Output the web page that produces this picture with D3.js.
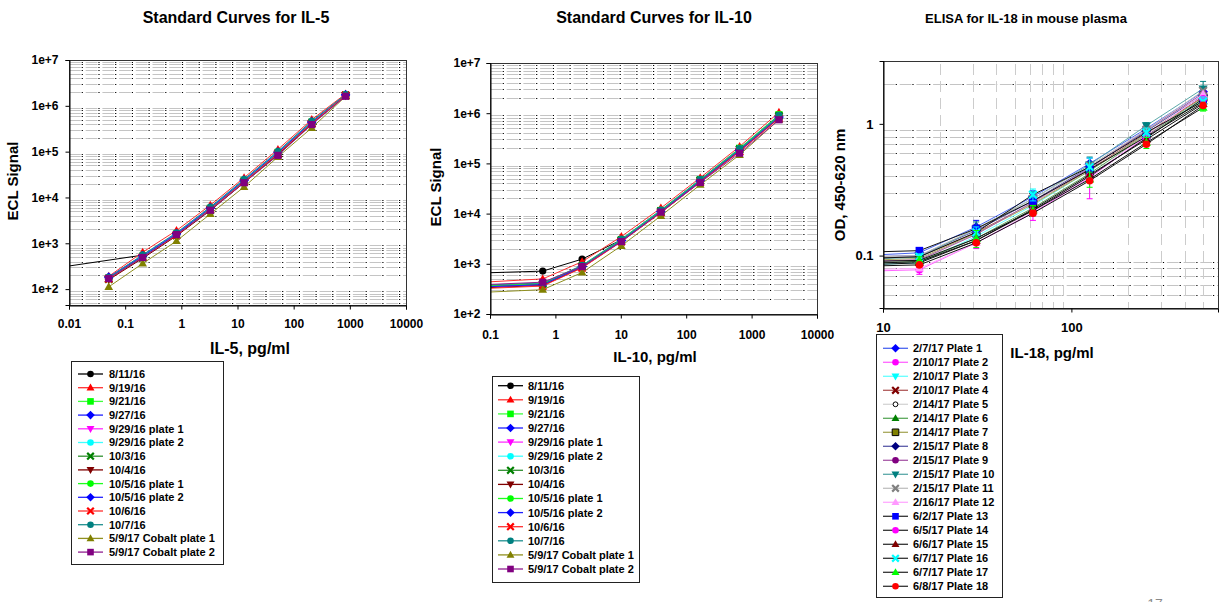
<!DOCTYPE html>
<html>
<head>
<meta charset="utf-8">
<script src="https://cdn.jsdelivr.net/npm/d3@7"></script>
<style>
  body { margin: 0; background: #fff; }
  svg text { font-family: Arial, "Liberation Sans", sans-serif; font-weight: bold; fill: #000; }
</style>
</head>
<body>
<div id="chart"></div>
<script>
// ---- data ----
const il5Dose = [0.0032, 0.051, 0.205, 0.82, 3.28, 13.1, 52.5, 210, 840];
const il10Dose = [0.04, 0.64, 2.56, 10.2, 41, 164, 655, 2620];
const il18Dose = [7.8, 15.6, 31.25, 62.5, 125, 250, 500];

const stdNames = ['8/11/16', '9/19/16', '9/21/16', '9/27/16', '9/29/16 plate 1', '9/29/16 plate 2',
  '10/3/16', '10/4/16', '10/5/16 plate 1', '10/5/16 plate 2', '10/6/16', '10/7/16',
  '5/9/17 Cobalt plate 1', '5/9/17 Cobalt plate 2'];

const il5Signal = [
  [260, null, 551, 1500, 5400, 21500, 88000, 410000, 1700000],
  [null, 190, 640, 1900, 6800, 27000, 112000, 500000, 1820000],
  [null, 175, 520, 1600, 5800, 23500, 96000, 440000, 1720000],
  [null, 185, 540, 1650, 6000, 24000, 98000, 450000, 1750000],
  [null, 170, 500, 1550, 5600, 22500, 92000, 420000, 1700000],
  [null, 175, 530, 1600, 5900, 24000, 97000, 445000, 1720000],
  [null, 165, 480, 1480, 5300, 21500, 88000, 410000, 1680000],
  [null, 160, 470, 1450, 5200, 21000, 86000, 400000, 1660000],
  [null, 172, 510, 1560, 5700, 23000, 94000, 430000, 1710000],
  [null, 178, 525, 1590, 5850, 23500, 95000, 435000, 1720000],
  [null, 168, 495, 1500, 5500, 22000, 90000, 415000, 1690000],
  [null, 180, 560, 1700, 6200, 25000, 102000, 465000, 1760000],
  [null, 112, 362, 1120, 4350, 17000, 77000, 330000, 1600000],
  [null, 171, 490, 1550, 5270, 21000, 83000, 390000, 1620000]
];

const il10Signal = [
  [640, 715, 1240, 3000, 11500, 45000, 180000, 820000],
  [410, 500, 1100, 3500, 12900, 52000, 217000, 1040000],
  [350, 400, 900, 3000, 11500, 47000, 200000, 930000],
  [340, 390, 880, 2900, 11000, 45000, 185000, 850000],
  [330, 380, 860, 2850, 10800, 44000, 180000, 820000],
  [360, 410, 920, 3050, 11600, 47000, 195000, 900000],
  [345, 395, 890, 2950, 11200, 46000, 190000, 880000],
  [320, 370, 840, 2800, 10500, 43000, 175000, 800000],
  [355, 405, 910, 3000, 11400, 46500, 192000, 890000],
  [335, 385, 870, 2870, 10900, 44500, 182000, 830000],
  [310, 360, 830, 2750, 10400, 42500, 172000, 790000],
  [365, 415, 930, 3100, 11800, 48000, 198000, 910000],
  [260, 305, 670, 2280, 9000, 37500, 148000, 740000],
  [370, 430, 880, 2770, 10700, 41700, 160000, 740000]
];

const plateNames = ['2/7/17 Plate 1', '2/10/17 Plate 2', '2/10/17 Plate 3', '2/10/17 Plate 4',
  '2/14/17 Plate 5', '2/14/17 Plate 6', '2/14/17 Plate 7', '2/15/17 Plate 8', '2/15/17 Plate 9',
  '2/15/17 Plate 10', '2/15/17 Plate 11', '2/16/17 Plate 12', '6/2/17 Plate 13', '6/5/17 Plate 14',
  '6/6/17 Plate 15', '6/7/17 Plate 16', '6/7/17 Plate 17', '6/8/17 Plate 18'];

const il18OD = [
  [0.100, 0.105, 0.165, 0.28, 0.50, 0.92, 1.75],
  [0.076, 0.078, 0.125, 0.21, 0.39, 0.80, 1.62],
  [0.085, 0.088, 0.140, 0.24, 0.44, 0.84, 1.55],
  [0.095, 0.098, 0.150, 0.25, 0.45, 0.85, 1.60],
  [0.090, 0.092, 0.145, 0.25, 0.46, 0.88, 1.70],
  [0.088, 0.090, 0.135, 0.23, 0.42, 0.82, 1.50],
  [0.092, 0.095, 0.148, 0.245, 0.44, 0.83, 1.58],
  [0.098, 0.100, 0.155, 0.26, 0.47, 0.88, 1.65],
  [0.090, 0.093, 0.145, 0.255, 0.46, 0.90, 1.70],
  [0.094, 0.097, 0.160, 0.27, 0.49, 0.97, 1.85],
  [0.097, 0.100, 0.160, 0.27, 0.48, 0.90, 1.78],
  [0.078, 0.080, 0.125, 0.215, 0.40, 0.82, 1.68],
  [0.106, 0.109, 0.160, 0.26, 0.45, 0.80, 1.45],
  [0.087, 0.090, 0.130, 0.22, 0.40, 0.78, 1.55],
  [0.085, 0.088, 0.130, 0.225, 0.41, 0.76, 1.42],
  [0.095, 0.098, 0.150, 0.29, 0.47, 0.86, 1.48],
  [0.090, 0.092, 0.135, 0.22, 0.38, 0.72, 1.33],
  [0.083, 0.085, 0.125, 0.21, 0.37, 0.70, 1.38]
];

// SD for the plates that show error bars (index -> values)
const il18Err = {
  0: [0, 0.008, 0.02, 0.03, 0.05, 0.06, 0.10],
  1: [0, 0.006, 0.012, 0.025, 0.12, 0.08, 0.15],
  9: [0, 0.007, 0.02, 0.035, 0.07, 0.05, 0.25],
  15: [0, 0.005, 0.015, 0.03, 0.08, 0.07, 0.12],
  16: [0, 0.006, 0.02, 0.02, 0.05, 0.07, 0.08]
};

// ---- styles ----
const stdStyle = [
  { c: '#000000', l: '#000000', s: 'circle' },
  { c: '#ff0000', l: '#ff3030', s: 'up' },
  { c: '#00ff00', l: '#40ff40', s: 'square' },
  { c: '#0000ff', l: '#2020ff', s: 'diamond' },
  { c: '#ff00ff', l: '#ff30ff', s: 'down' },
  { c: '#00ffff', l: '#40ffff', s: 'circle' },
  { c: '#008000', l: '#309030', s: 'x' },
  { c: '#800000', l: '#800000', s: 'down' },
  { c: '#00ff00', l: '#20ff20', s: 'circle' },
  { c: '#0000ff', l: '#2020ff', s: 'diamond' },
  { c: '#ff0000', l: '#ff3030', s: 'x' },
  { c: '#008080', l: '#209090', s: 'circle' },
  { c: '#808000', l: '#909020', s: 'up' },
  { c: '#800080', l: '#902090', s: 'square' }
];

const plateStyle = [
  { c: '#0000ff', l: '#4a66f0', s: 'diamond' },
  { c: '#ff00ff', l: '#ff66ff', s: 'circle' },
  { c: '#00ffff', l: '#66ffff', s: 'down' },
  { c: '#800000', l: '#b05a5a', s: 'x' },
  { c: '#ffffff', l: '#d4d4d4', s: 'ocircle' },
  { c: '#008000', l: '#5aa85a', s: 'up' },
  { c: '#808000', l: '#a8a85a', s: 'bsquare' },
  { c: '#000080', l: '#5a5aa8', s: 'diamond' },
  { c: '#800080', l: '#a85aa8', s: 'circle' },
  { c: '#008080', l: '#5aa8a8', s: 'down' },
  { c: '#808080', l: '#c0c0c0', s: 'x' },
  { c: '#ff99ff', l: '#ffaaff', s: 'up' },
  { c: '#0000ff', l: '#333333', s: 'square' },
  { c: '#ff00ff', l: '#333333', s: 'circle' },
  { c: '#800000', l: '#333333', s: 'up' },
  { c: '#00ffff', l: '#333333', s: 'x' },
  { c: '#00ff00', l: '#333333', s: 'up' },
  { c: '#ff0000', l: '#333333', s: 'circle' }
];

const svg = d3.select('#chart').append('svg')
  .attr('width', 1225).attr('height', 602)
  .style('display', 'block');

function symPath(shape, r) {
  switch (shape) {
    case 'square': case 'bsquare':
      return `M${-r},${-r}h${2 * r}v${2 * r}h${-2 * r}Z`;
    case 'diamond':
      return `M0,${-r * 1.3}L${r * 1.3},0L0,${r * 1.3}L${-r * 1.3},0Z`;
    case 'up':
      return `M0,${-r * 1.25}L${r * 1.2},${r * 0.85}L${-r * 1.2},${r * 0.85}Z`;
    case 'down':
      return `M0,${r * 1.25}L${r * 1.2},${-r * 0.85}L${-r * 1.2},${-r * 0.85}Z`;
    case 'x':
      return `M${-r},${-r}L${r},${r}M${r},${-r}L${-r},${r}`;
    case 'ocircle':
      return d3.symbol(d3.symbolCircle, Math.PI * 2.4 * 2.4)();
    default:
      return d3.symbol(d3.symbolCircle, Math.PI * r * r)();
  }
}

function drawMarker(sel, st, r) {
  const p = sel.append('path').attr('d', symPath(st.s, r));
  if (st.s === 'x') {
    p.attr('fill', 'none').attr('stroke', st.c).attr('stroke-width', 2.2);
  } else if (st.s === 'ocircle') {
    p.attr('fill', '#fff').attr('stroke', '#000').attr('stroke-width', 1);
  } else if (st.s === 'bsquare') {
    p.attr('fill', st.c).attr('stroke', '#000').attr('stroke-width', 1);
  } else {
    p.attr('fill', st.c);
  }
}

// minor log values (2..9 x 10^k) inside a domain
function minorVals(dom) {
  const out = [];
  const k0 = Math.floor(Math.log10(dom[0])), k1 = Math.ceil(Math.log10(dom[1]));
  for (let k = k0; k <= k1; k++) {
    for (let m = 2; m <= 9; m++) {
      const v = m * Math.pow(10, k);
      if (v >= dom[0] * 1.0001 && v <= dom[1] * 0.9999) out.push(v);
    }
  }
  return out;
}

function panel(o) {
  const g = svg.append('g');
  const x = d3.scaleLog().domain(o.xDomain).range([o.left, o.right]);
  const y = d3.scaleLog().domain(o.yDomain).range([o.bottom, o.top]);

  // horizontal grid: grey dashes with black dots
  const hg = g.append('g');
  minorVals(o.yDomain).forEach((v) => {
    const yy = Math.round(y(v)) + 0.5;
    hg.append('line').attr('x1', o.left).attr('x2', o.right).attr('y1', yy).attr('y2', yy)
      .attr('stroke', '#c4c4c4').attr('stroke-width', 1).attr('stroke-dasharray', '11.7,5');
    hg.append('line').attr('x1', o.left).attr('x2', o.right).attr('y1', yy).attr('y2', yy)
      .attr('stroke', '#000').attr('stroke-width', 1).attr('stroke-dasharray', '1.2,15.5')
      .attr('stroke-dashoffset', 4);
  });
  if (o.vGrid) {
    minorVals(o.xDomain).forEach((v) => {
      const xx = Math.round(x(v)) + 0.5;
      hg.append('line').attr('x1', xx).attr('x2', xx).attr('y1', o.top).attr('y2', o.bottom)
        .attr('stroke', '#cccccc').attr('stroke-width', 1).attr('stroke-dasharray', '11,6')
        .attr('stroke-dashoffset', -3);
    });
  }

  // series
  const clipId = 'clip' + o.id;
  svg.append('clipPath').attr('id', clipId).append('rect')
    .attr('x', o.left).attr('y', o.top).attr('width', o.right - o.left).attr('height', o.bottom - o.top);
  const sg = g.append('g').attr('clip-path', `url(#${clipId})`);
  const line = d3.line().x((d) => x(d[0])).y((d) => y(d[1]));

  o.values.forEach((vals, i) => {
    const pts = o.dose.map((d, j) => [d, vals[j], o.err && o.err[i] ? o.err[i][j] : 0])
      .filter((p) => p[1] != null);
    const st = o.styles[i];
    const s = sg.append('g');
    s.append('path').datum(pts).attr('d', line)
      .attr('fill', 'none').attr('stroke', o.plotLine ? o.plotLine(st) : st.l).attr('stroke-width', 1);
    pts.filter((p) => p[2] > 0).forEach((p) => {
      const xx = x(p[0]);
      const y0 = y(p[1] - p[2]), y1 = y(p[1] + p[2]);
      s.append('path').attr('d', `M${xx},${y0}V${y1}M${xx - 3},${y0}h6M${xx - 3},${y1}h6`)
        .attr('stroke', st.s === 'ocircle' ? '#000' : st.c).attr('stroke-width', 1).attr('fill', 'none');
    });
    pts.forEach((p) => {
      const m = s.append('g').attr('transform', `translate(${x(p[0])},${y(p[1])})`);
      drawMarker(m, st, o.markerR);
    });
  });

  // frame
  g.append('rect').attr('x', o.left + 0.5).attr('y', o.top + 0.5)
    .attr('width', o.right - o.left).attr('height', o.bottom - o.top)
    .attr('fill', 'none').attr('stroke', '#333').attr('stroke-width', 1);

  // axes
  const yAx = g.append('g').attr('transform', `translate(${o.left + 0.5},0)`)
    .call(d3.axisLeft(y).tickValues(o.yTicks).tickFormat((d, i) => o.yLabels[i])
      .tickSize(4).tickPadding(o.yPad));
  const xAx = g.append('g').attr('transform', `translate(0,${o.bottom + 0.5})`)
    .call(d3.axisBottom(x).tickValues(o.xTicks).tickFormat((d, i) => o.xLabels[i])
      .tickSize(4).tickPadding(o.xPad));
  [yAx, xAx].forEach((a) => {
    a.select('.domain').attr('stroke', '#000');
    a.selectAll('.tick line').attr('stroke', '#000');
    a.selectAll('.tick text').style('font-size', o.tickFont + 'px')
      .style('font-family', 'Arial, "Liberation Sans", sans-serif').style('font-weight', 'bold');
  });

  // titles
  g.append('text').attr('x', o.titleX).attr('y', 23).attr('text-anchor', 'middle')
    .style('font-size', o.titleFont + 'px').text(o.title);
  g.append('text').attr('x', o.xLabelPos[0]).attr('y', o.xLabelPos[1]).attr('text-anchor', 'middle')
    .style('font-size', o.xLabelFont + 'px').text(o.xLabel);
  g.append('text').attr('transform', `translate(${o.yLabelPos[0]},${o.yLabelPos[1]}) rotate(-90)`)
    .attr('text-anchor', 'middle').style('font-size', '15px').text(o.yLabel);

  // legend
  const L = o.legend;
  g.append('rect').attr('x', L.x + 0.5).attr('y', L.y + 0.5).attr('width', L.w).attr('height', L.h)
    .attr('fill', '#fff').attr('stroke', '#222').attr('stroke-width', 1);
  o.names.forEach((n, i) => {
    const yy = L.first + i * L.step;
    const st = o.styles[i];
    g.append('line').attr('x1', L.lx).attr('x2', L.lx + 25).attr('y1', yy).attr('y2', yy)
      .attr('stroke', st.l).attr('stroke-width', 1.3);
    drawMarker(g.append('g').attr('transform', `translate(${L.lx + 12.5},${yy})`), st, 3.3);
    g.append('text').attr('x', L.tx).attr('y', yy).attr('dy', '0.36em')
      .style('font-size', '11px').text(n);
  });
}

panel({
  id: 1, left: 69, right: 406, top: 60, bottom: 305,
  xDomain: [0.01, 10000], yDomain: [45, 1e7],
  dose: il5Dose, values: il5Signal, styles: stdStyle, names: stdNames, markerR: 3.6,
  xTicks: [0.01, 0.1, 1, 10, 100, 1000, 10000],
  xLabels: ['0.01', '0.1', '1', '10', '100', '1000', '10000'],
  yTicks: [1e2, 1e3, 1e4, 1e5, 1e6, 1e7],
  yLabels: ['1e+2', '1e+3', '1e+4', '1e+5', '1e+6', '1e+7'],
  yPad: 7, xPad: 10, tickFont: 12,
  title: 'Standard Curves for IL-5', titleX: 236, titleFont: 16,
  xLabel: 'IL-5, pg/ml', xLabelPos: [250, 354], xLabelFont: 16,
  yLabel: 'ECL Signal', yLabelPos: [18, 181],
  legend: { x: 71, y: 361, w: 152, h: 203, first: 374, step: 13.7, lx: 78, tx: 109 }
});

panel({
  id: 2, left: 490, right: 817, top: 63, bottom: 314,
  xDomain: [0.1, 10000], yDomain: [1e2, 1e7],
  dose: il10Dose, values: il10Signal, styles: stdStyle, names: stdNames, markerR: 3.6,
  xTicks: [0.1, 1, 10, 100, 1000, 10000],
  xLabels: ['0.1', '1', '10', '100', '1000', '10000'],
  yTicks: [1e2, 1e3, 1e4, 1e5, 1e6, 1e7],
  yLabels: ['1e+2', '1e+3', '1e+4', '1e+5', '1e+6', '1e+7'],
  yPad: 6, xPad: 12, tickFont: 12,
  title: 'Standard Curves for IL-10', titleX: 654, titleFont: 16,
  xLabel: 'IL-10, pg/ml', xLabelPos: [655, 362], xLabelFont: 15,
  yLabel: 'ECL Signal', yLabelPos: [441, 187],
  legend: { x: 492, y: 376, w: 147, h: 206, first: 385.7, step: 14.1, lx: 498, tx: 528 }
});

panel({
  id: 3, left: 883, right: 1218, top: 61, bottom: 308, vGrid: true,
  xDomain: [10, 600], yDomain: [0.04, 3],
  dose: il18Dose, values: il18OD, err: il18Err, styles: plateStyle, names: plateNames, markerR: 3.8,
  plotLine: (st) => (st.l === '#333333' ? '#111111' : st.l),
  xTicks: [10, 100], xLabels: ['10', '100'],
  yTicks: [0.1, 1], yLabels: ['0.1', '1'],
  yPad: 6, xPad: 10, tickFont: 13,
  title: 'ELISA for IL-18 in mouse plasma', titleX: 1026, titleFont: 13,
  xLabel: 'IL-18, pg/ml', xLabelPos: [1052, 358], xLabelFont: 15,
  yLabel: 'OD, 450-620 nm', yLabelPos: [845, 185],
  legend: { x: 876, y: 334, w: 126, h: 263, first: 348.3, step: 14.0, lx: 883, tx: 913 }
});

// slide page number, cut by the bottom edge as on the slide
svg.append('text').attr('x', 1155).attr('y', 609).attr('text-anchor', 'middle')
  .style('font-size', '14px').style('font-weight', 'normal').style('fill', '#8a8a8a').text('17');
</script>
</body>
</html>
